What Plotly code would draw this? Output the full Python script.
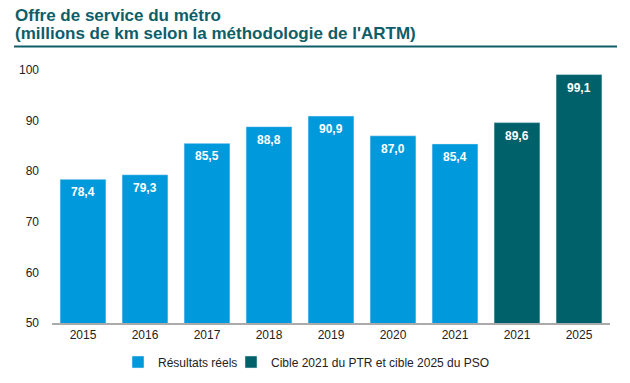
import plotly.graph_objects as go

tick_labels = ["2015", "2016", "2017", "2018", "2019", "2020", "2021", "2021", "2025"]
positions = list(range(len(tick_labels)))
real_pos = positions[:7]
real_vals = [78.4, 79.3, 85.5, 88.8, 90.9, 87.0, 85.4]
target_pos = positions[7:]
target_vals = [89.6, 99.1]

series_names = ["Résultats réels", "Cible 2021 du PTR et cible 2025 du PSO"]
title_lines = ["Offre de service du métro",
               "(millions de km selon la méthodologie de l'ARTM)"]
BLUE = "#009ADC"
TEAL = "#00616A"
TITLE_COLOR = "#0E5E69"
FONT = "Liberation Sans, Arial, sans-serif"

def fmt(v):
    return f"{v:.1f}".replace(".", ",")

fig = go.Figure()
fig.add_trace(go.Bar(x=real_pos, y=real_vals, name=series_names[0],
                     marker_color=BLUE, hoverinfo="skip", legend="legend"))
fig.add_trace(go.Bar(x=target_pos, y=target_vals, name=series_names[1],
                     marker_color=TEAL, hoverinfo="skip", legend="legend2"))

W, H = 630, 383
ml, mr, mt, mb = 52, 20, 70, 60
pw = W - ml - mr
ph = H - mt - mb

def px_x(x):
    return (x - ml) / pw

def px_y(y):
    return (H - mb - y) / ph

legend_style = dict(orientation="h", xanchor="left", y=px_y(362), yanchor="middle",
                    font=dict(size=12, color="#222222"), itemwidth=30,
                    bgcolor="rgba(0,0,0,0)")

fig.update_layout(
    width=W, height=H,
    margin=dict(l=ml, r=mr, t=mt, b=mb, autoexpand=False),
    paper_bgcolor="white", plot_bgcolor="white",
    font=dict(family=FONT, size=12, color="#333333"),
    bargap=0.26, barmode="overlay",
    showlegend=True,
    legend=dict(x=px_x(118), **legend_style),
    legend2=dict(x=px_x(231), **legend_style),
    xaxis=dict(
        tickmode="array", tickvals=positions, ticktext=tick_labels,
        range=[-0.5, len(positions) - 0.5], automargin=False,
        showline=True, linecolor="#AAAAAA", linewidth=2,
        ticks="", showgrid=False, zeroline=False, fixedrange=True,
        tickfont=dict(size=12, color="#222222"),
    ),
    yaxis=dict(
        range=[50, 100], tickvals=[50, 60, 70, 80, 90, 100], automargin=False,
        showgrid=False, zeroline=False, showline=False, ticks="", fixedrange=True,
        ticklabelstandoff=12,
        tickfont=dict(size=12, color="#222222"),
    ),
)

# value labels inside the top of each bar
for xs, ys in ((real_pos, real_vals), (target_pos, target_vals)):
    for xv, yv in zip(xs, ys):
        fig.add_annotation(x=xv, y=yv, xref="x", yref="y", text=fmt(yv),
                           showarrow=False, yanchor="middle", yshift=-13,
                           font=dict(family=FONT, size=12, color="white", weight="bold"))

for line, yc in zip(title_lines, [16, 34]):
    fig.add_annotation(text=line, xref="paper", yref="paper",
                       x=px_x(13), y=px_y(yc), xanchor="left", yanchor="middle",
                       showarrow=False,
                       font=dict(family=FONT, size=17, color=TITLE_COLOR, weight="bold"))

fig.add_shape(type="line", xref="paper", yref="paper", layer="above",
              x0=px_x(14), x1=px_x(617), y0=px_y(46.5), y1=px_y(46.5),
              line=dict(color=TITLE_COLOR, width=2))

fig.write_html("out.html", config={"displayModeBar": False, "staticPlot": True},
               post_script="document.body.style.margin='0';document.body.style.overflow='hidden';")
